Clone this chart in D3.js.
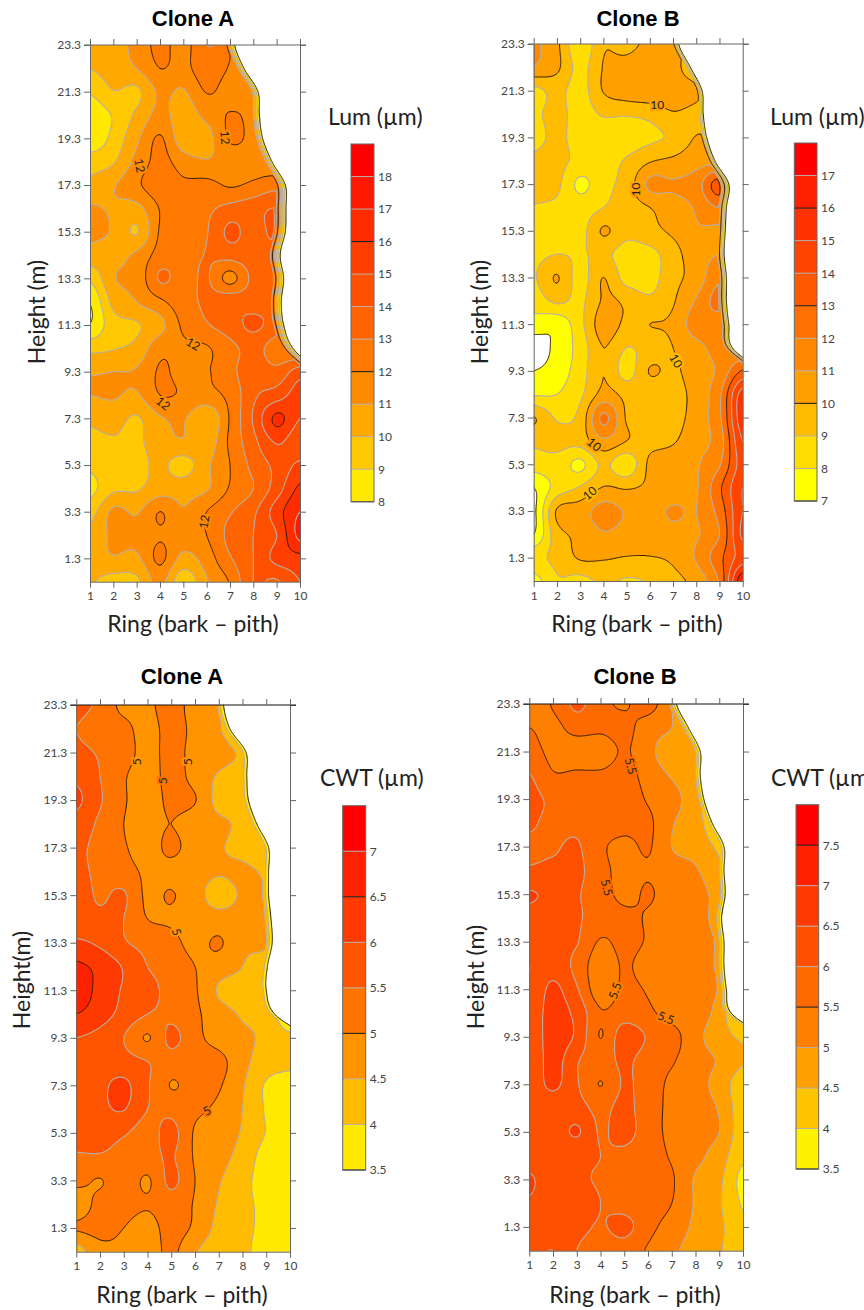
<!DOCTYPE html>
<html lang="en">
<head>
  <meta charset="UTF-8">
  <title>Lum and CWT contour maps</title>
  <script src="https://cdn.jsdelivr.net/npm/d3@7"></script>
  <style>
    html, body { margin: 0; padding: 0; background: #fff; }
    svg { display: block; }
    text { font-family: Lato, "Open Sans", sans-serif; }
    .title { font-family: "Liberation Sans", Arial, sans-serif; font-weight: bold; font-size: 22px; text-anchor: middle; fill: #000; }
    .axis-title { font-size: 23px; text-anchor: middle; fill: #222; }
    .bar-title { font-size: 23px; fill: #222; }
    .tick text { font-family: Lato, "Open Sans", sans-serif; font-size: 12px; fill: #444; }
    .line-label { font-size: 12px; fill: #222; text-anchor: middle; dominant-baseline: central; paint-order: stroke; stroke-width: 4px; }
  </style>
</head>
<body>
  <script>
    // rows go 23.3 m -> 0.3 m, columns are rings 1..10
    const rings = d3.range(1, 11);
    const heights = d3.range(0, 24).map(i => +(23.3 - i).toFixed(1));
    const heightTicks = [23.3, 21.3, 19.3, 17.3, 15.3, 13.3, 11.3, 9.3, 7.3, 5.3, 3.3, 1.3];

    const lumA = [
      [10.0, 10.6, 11.3, 12.3, 11.6, 13.0, 12.1, 8, 8, 8],
      [10.0, 10.5, 11.0, 12.0, 11.7, 12.6, 11.9, 11.0, 8, 8],
      [9.1, 9.95, 9.8, 11.2, 10.9, 12.05, 11.6, 11.4, 9, 9],
      [8.3, 9.1, 10.2, 11.3, 10.5, 11.3, 12.05, 11.5, 9, 9],
      [8.3, 9.3, 10.8, 12.1, 10.4, 10.6, 12.1, 11.5, 9, 9],
      [9.5, 9.9, 11.3, 12.3, 11.5, 11.1, 11.5, 11.5, 11, 11],
      [10.3, 10.9, 11.8, 12.6, 12.2, 12.3, 11.9, 12.2, 12.6, 12],
      [11.1, 10.9, 10.7, 12.05, 12.5, 12.8, 13.3, 13.6, 14.0, 13],
      [11.2, 10.9, 9.95, 12.1, 12.6, 12.95, 14.2, 13.6, 14.2, 13],
      [10.6, 10.7, 11.2, 12.4, 12.7, 13.05, 13.4, 13.6, 13.6, 13],
      [9.2, 10.9, 11.3, 13.1, 12.6, 13.1, 11.7, 13.3, 13.9, 13],
      [8.05, 10.3, 11.0, 11.8, 12.6, 13.2, 13.7, 13.6, 13.7, 13],
      [8.05, 9.6, 9.9, 10.7, 12.2, 12.9, 13.5, 14.2, 13.5, 13],
      [9.7, 9.95, 10.3, 11.7, 11.8, 11.9, 12.7, 13.3, 12.5, 12],
      [10.9, 11.0, 11.1, 12.1, 11.7, 11.9, 12.7, 13.6, 13.3, 14.5],
      [11.0, 11.1, 10.9, 12.0, 11.9, 11.7, 12.3, 13.8, 14.5, 15.5],
      [10.2, 10.4, 9.9, 10.9, 11.1, 10.1, 12.1, 14.1, 16.2, 15.0],
      [9.7, 9.9, 9.8, 10.6, 10.9, 10.4, 12.2, 13.7, 15.1, 14.3],
      [9.2, 9.8, 9.7, 10.2, 9.6, 10.8, 12.0, 13.3, 14.3, 15.2],
      [8.7, 9.8, 9.9, 10.5, 10.6, 10.9, 12.1, 13.0, 14.5, 16.2],
      [9.6, 11.2, 10.9, 12.0, 11.1, 12.0, 12.9, 13.8, 15.5, 17.0],
      [10.3, 11.2, 11.3, 11.9, 11.5, 12.0, 13.3, 14.0, 15.0, 17.3],
      [10.6, 10.9, 10.8, 12.2, 10.7, 11.5, 12.9, 14.0, 15.3, 15.7],
      [10.1, 9.6, 9.8, 11.3, 9.3, 10.9, 12.1, 14.0, 13.9, 15.0]
    ];
    const lumB = [
      [11.2, 10.2, 8.2, 9.9, 9.6, 10.4, 10.7, 9, 9, 9],
      [10.9, 10.2, 8.7, 10.05, 10.5, 10.9, 10.5, 9, 9, 9],
      [8.7, 9.3, 8.6, 10.05, 10.6, 10.8, 10.7, 10.3, 9, 9],
      [8.8, 9.3, 8.6, 9.1, 9.1, 9.3, 9.9, 9.6, 9, 9],
      [8.7, 9.2, 8.6, 8.5, 8.5, 8.8, 9.2, 10.05, 10, 10],
      [9.2, 9.3, 8.7, 8.7, 9.1, 9.9, 10.2, 10.6, 10.6, 10],
      [9.3, 9.2, 7.8, 8.7, 9.4, 11.2, 11.1, 11.5, 13.4, 11],
      [8.95, 8.8, 8.5, 9.0, 9.5, 10.0, 10.6, 11.1, 12.0, 11],
      [8.6, 8.5, 8.6, 10.1, 9.3, 9.7, 10.2, 10.9, 10.8, 11],
      [8.7, 9.0, 8.9, 9.2, 8.6, 8.7, 9.6, 10.6, 11.0, 11],
      [8.9, 10.05, 8.6, 10.0, 8.6, 8.6, 9.7, 10.4, 11.8, 11],
      [8.4, 9.2, 8.8, 10.1, 9.8, 9.2, 9.9, 11.1, 12.3, 11],
      [7.6, 7.3, 8.7, 10.5, 9.8, 10.0, 10.2, 11.5, 11.5, 11],
      [6.4, 7.3, 8.4, 10.0, 9.0, 9.4, 10.0, 10.7, 11.3, 11],
      [7.0, 7.5, 8.5, 9.98, 8.6, 10.05, 9.8, 10.6, 11.2, 13.1],
      [7.9, 8.0, 8.8, 10.3, 9.7, 9.4, 9.6, 10.4, 11.8, 15.5],
      [10.05, 8.9, 9.3, 12.2, 9.9, 9.5, 9.6, 10.5, 11.8, 15.7],
      [9.2, 9.3, 9.4, 10.8, 10.0, 9.7, 9.9, 10.7, 11.5, 15.0],
      [8.5, 8.6, 7.8, 9.2, 8.3, 10.2, 10.6, 10.9, 11.9, 14.5],
      [7.0, 8.4, 9.1, 10.05, 9.9, 10.2, 10.5, 10.9, 12.8, 15.0],
      [6.8, 10.1, 10.5, 11.4, 10.9, 10.7, 11.1, 11.0, 12.4, 15.0],
      [7.0, 9.6, 10.2, 10.9, 10.6, 10.6, 10.7, 10.9, 12.0, 15.2],
      [8.7, 9.3, 10.1, 10.1, 9.95, 9.95, 10.2, 11.1, 12.7, 14.5],
      [7.6, 8.9, 8.7, 9.2, 8.9, 9.1, 9.7, 10.4, 12.2, 16.8]
    ];
    const cwtA = [
      [5.6, 5.4, 4.85, 4.85, 5.3, 4.7, 4.6, 3.9, 3.9, 3.9],
      [5.5, 5.3, 5.15, 4.8, 5.2, 4.85, 4.55, 4.0, 4, 4],
      [5.6, 5.45, 5.2, 4.85, 5.15, 4.85, 4.7, 4.4, 4, 4],
      [5.9, 5.5, 5.05, 4.8, 5.15, 4.85, 4.45, 4.3, 4, 4],
      [6.1, 5.55, 5.05, 4.8, 5.1, 5.02, 4.35, 4.35, 4, 4],
      [5.8, 5.4, 5.0, 4.85, 5.0, 4.75, 4.6, 4.4, 4.2, 4],
      [5.6, 5.35, 5.05, 4.8, 5.1, 4.75, 4.55, 4.35, 4.1, 4],
      [5.6, 5.4, 5.2, 4.9, 4.85, 4.7, 4.55, 4.6, 4.4, 4],
      [5.7, 5.45, 5.55, 4.9, 5.03, 4.7, 4.3, 4.55, 4.52, 4],
      [5.55, 5.6, 5.5, 5.0, 4.93, 4.75, 4.7, 4.65, 4.6, 4],
      [6.1, 5.9, 5.55, 5.35, 5.15, 4.85, 5.05, 4.6, 4.6, 4],
      [6.6, 6.35, 5.95, 5.5, 5.3, 5.0, 4.75, 4.5, 4.2, 4],
      [6.9, 6.3, 5.95, 5.65, 5.35, 5.05, 4.45, 4.3, 4.3, 4],
      [6.5, 6.2, 5.85, 5.5, 5.4, 5.1, 4.7, 4.45, 4.3, 3.6],
      [6.0, 5.85, 5.5, 4.97, 5.6, 5.15, 4.8, 4.6, 4.4, 4.1],
      [5.9, 5.8, 5.7, 5.5, 5.3, 5.25, 5.15, 4.65, 4.25, 4.1],
      [5.8, 5.9, 6.1, 5.55, 4.98, 5.2, 5.05, 4.55, 3.95, 3.8],
      [5.85, 5.9, 6.02, 5.5, 5.35, 5.1, 4.9, 4.5, 3.95, 3.7],
      [5.7, 5.7, 5.55, 5.3, 5.65, 4.95, 4.8, 4.45, 3.98, 3.7],
      [5.45, 5.45, 5.35, 5.3, 5.55, 4.95, 4.7, 4.3, 3.8, 3.6],
      [5.15, 4.98, 5.3, 4.95, 5.6, 5.0, 4.55, 4.15, 3.8, 3.6],
      [4.7, 5.15, 5.2, 5.05, 5.3, 4.95, 4.45, 4.1, 3.9, 3.6],
      [5.05, 5.15, 5.0, 4.8, 5.2, 4.9, 4.35, 4.1, 3.9, 3.7],
      [4.3, 4.85, 4.9, 4.75, 5.1, 4.55, 4.2, 4.1, 3.8, 3.7]
    ];
    const cwtB = [
      [5.2, 5.55, 6.1, 5.65, 5.45, 5.7, 5.0, 4.0, 4, 4],
      [5.5, 5.35, 5.7, 5.6, 5.65, 5.25, 5.0, 4.5, 4, 4],
      [5.7, 5.35, 5.2, 5.2, 5.55, 5.15, 4.7, 4.55, 4, 4],
      [6.02, 5.55, 5.6, 5.6, 5.7, 5.3, 4.95, 4.6, 4, 4],
      [6.15, 5.9, 5.9, 5.85, 5.8, 5.45, 5.2, 4.65, 4, 4],
      [6.05, 5.9, 5.9, 5.8, 5.7, 5.6, 5.05, 4.7, 4.1, 4],
      [5.95, 5.95, 6.05, 5.6, 5.35, 5.55, 5.0, 4.8, 4.4, 4],
      [6.05, 6.1, 6.1, 5.7, 5.3, 5.45, 5.2, 5.05, 4.6, 4],
      [6.55, 6.35, 6.05, 5.75, 5.35, 5.55, 5.25, 5.15, 4.8, 4],
      [6.3, 6.15, 6.05, 5.8, 5.65, 5.45, 5.25, 5.15, 4.8, 4],
      [6.15, 6.15, 6.03, 5.45, 5.65, 5.45, 5.2, 5.15, 4.9, 4],
      [6.0, 6.3, 5.85, 5.2, 5.55, 5.3, 5.2, 5.15, 4.9, 4],
      [6.05, 6.6, 6.05, 5.2, 5.6, 5.45, 5.2, 5.2, 4.95, 4],
      [6.15, 6.7, 6.35, 5.55, 5.75, 5.6, 5.3, 5.2, 4.8, 3.7],
      [6.1, 6.75, 6.4, 5.49, 6.3, 5.95, 5.7, 5.15, 4.75, 4.4],
      [6.05, 6.7, 6.05, 5.75, 6.1, 5.75, 5.55, 5.2, 4.95, 4.55],
      [6.15, 6.6, 6.05, 5.49, 6.05, 5.75, 5.4, 5.2, 4.8, 4.2],
      [6.15, 6.2, 6.2, 5.85, 6.15, 5.7, 5.4, 5.2, 4.95, 4.2],
      [6.2, 6.2, 6.55, 5.95, 6.2, 5.7, 5.4, 5.2, 5.0, 4.2],
      [6.1, 6.1, 6.1, 6.0, 5.85, 5.7, 5.45, 5.15, 4.75, 4.1],
      [6.6, 6.05, 6.05, 5.95, 5.75, 5.7, 5.55, 4.95, 4.6, 3.85],
      [6.4, 6.2, 6.2, 6.0, 5.8, 5.7, 5.5, 4.95, 4.55, 3.95],
      [6.1, 6.15, 6.15, 5.95, 6.15, 5.65, 5.3, 4.9, 4.6, 4.1],
      [6.3, 6.5, 6.0, 5.7, 5.75, 5.45, 5.1, 4.8, 4.55, 4.1]
    ];

    // last ring with wood at every height, same rows as above
    const edgeLumA = [7.2, 7.6, 8.2, 8.26, 8.4, 8.8, 9.37, 9.4, 9.37, 9.15, 9.3, 9.2, 9.3, 9.7, 10.8, 12, 14, 14, 14, 14, 14, 14, 14, 14];
    const edgeLumB = [7.24, 7.75, 8.25, 8.3, 8.45, 8.8, 9.4, 9.3, 9.25, 9.2, 9.3, 9.3, 9.4, 9.55, 10.8, 12, 14, 14, 14, 14, 14, 14, 14, 14];
    const edgeCwtA = [7.2, 7.47, 8.15, 8.18, 8.25, 8.6, 9.1, 9.1, 9.1, 9.2, 9.25, 9.05, 9.0, 9.35, 10.8, 12, 14, 14, 14, 14, 14, 14, 14, 14];
    const edgeCwtB = [7.2, 7.7, 8.2, 8.2, 8.35, 8.7, 9.2, 9.2, 9.25, 9.1, 9.2, 9.2, 9.3, 9.5, 10.9, 12, 14, 14, 14, 14, 14, 14, 14, 14];

    const levelsLumA = d3.range(8, 20);
    const levelsLumB = d3.range(7, 19);
    const levelsCwtA = d3.range(3.5, 8, 0.5);
    const levelsCwtB = d3.range(3.5, 8.5, 0.5);

    const darkLumA = [8, 12, 16];
    const darkLumB = [7, 10, 13, 16];
    const darkCwtA = [3.5, 5, 6.5];
    const darkCwtB = [3.5, 5.5, 7.5];

    const bandsLumA = ['#ffe900', '#ffc800', '#ffa900', '#ff8c00', '#ff7800', '#ff6400', '#ff5000', '#ff3e00', '#ff2c00', '#ff1800', '#ff0000'];
    const bandsLumB = ['#ffff00', '#ffdd00', '#ffbb00', '#ff9f00', '#ff8800', '#ff7000', '#ff5800', '#ff4400', '#ff3200', '#ff2000', '#ff0000'];
    const bandsCwtA = ['#ffe900', '#ffbb00', '#ff9400', '#ff7400', '#ff5400', '#ff3a00', '#ff2000', '#ff0000'];
    const bandsCwtB = ['#fff200', '#ffc400', '#ffa000', '#ff8000', '#ff6a00', '#ff5000', '#ff3a00', '#ff2000', '#ff0000'];

    // [ring, height, angle, text]
    const labelsLumA = [[3.14, 18.13, 80, '12'], [6.8, 19.33, 85, '12'], [5.43, 10.49, 30, '12'], [4.14, 7.95, 40, '12'], [5.89, 2.87, -80, '12']];
    const labelsLumB = [[6.32, 20.71, 0, '10'], [5.38, 17.07, -90, '10'], [7.13, 9.73, 60, '10'], [3.61, 6.16, 40, '10'], [3.41, 4.07, -40, '10']];
    const labelsCwtA = [[3.54, 20.91, -90, '5'], [5.68, 20.91, -90, '5'], [4.62, 20.11, -90, '5'], [5.23, 13.75, 75, '5'], [6.49, 6.24, -30, '5']];
    const labelsCwtB = [[5.28, 20.69, 75, '5.5'], [4.27, 15.58, 75, '5.5'], [4.6, 11.24, -70, '5.5'], [6.76, 10.1, 20, '5.5']];

    const panels = [
      { title: 'Clone A', barTitle: 'Lum (µm)', yTitle: 'Height (m)', grid: lumA, edge: edgeLumA, levels: levelsLumA, dark: darkLumA, bands: bandsLumA, labels: labelsLumA, slope: 12, topColor: '#666',
        x: [90, 300], y: [45, 581.7], titleAt: [193, 26], xTitleAt: [193, 632], yTitleAt: [37, 312], bar: [351, 374, 144, 501.7], barTitleAt: [328, 125] },
      { title: 'Clone B', barTitle: 'Lum (µm)', yTitle: 'Height (m)', grid: lumB, edge: edgeLumB, levels: levelsLumB, dark: darkLumB, bands: bandsLumB, labels: labelsLumB, slope: 15, topColor: '#666',
        x: [533.7, 742.7], y: [44, 581], titleAt: [638, 26], xTitleAt: [637, 632], yTitleAt: [480, 312], bar: [794.3, 817, 143, 501], barTitleAt: [770, 125] },
      { title: 'Clone A', barTitle: 'CWT (µm)', yTitle: 'Height(m)', grid: cwtA, edge: edgeCwtA, levels: levelsCwtA, dark: darkCwtA, bands: bandsCwtA, labels: labelsCwtA, slope: 4, topColor: '#111',
        x: [76.3, 290], y: [705, 1251.7], titleAt: [182, 684], xTitleAt: [182, 1303], yTitleAt: [22, 980], bar: [342.7, 365.7, 805.7, 1170], barTitleAt: [320, 786] },
      { title: 'Clone B', barTitle: 'CWT (µm)', yTitle: 'Height (m)', grid: cwtB, edge: edgeCwtB, levels: levelsCwtB, dark: darkCwtB, bands: bandsCwtB, labels: labelsCwtB, slope: 5, topColor: '#111',
        x: [529.3, 743], y: [704, 1250.7], titleAt: [635, 684], xTitleAt: [635, 1303], yTitleAt: [476, 977], bar: [796, 818.7, 804.7, 1169], barTitleAt: [771, 786] }
    ];

    const svg = d3.select('body').append('svg').attr('width', 864).attr('height', 1310);
    const fine = 24; // contour cells per ring / per metre

    function catmull(a, b, c, d, t) {
      return 0.5 * (2 * b + (c - a) * t + (2 * a - 5 * b + 4 * c - d) * t * t + (3 * b - a - 3 * c + d) * t * t * t);
    }
    function sample1d(arr, p) {
      const n = arr.length;
      const i = Math.min(Math.floor(p), n - 2);
      const t = p - i;
      return catmull(arr[Math.max(i - 1, 0)], arr[i], arr[i + 1], arr[Math.min(i + 2, n - 1)], t);
    }

    // resample the read-off grid so the contours come out round
    function resample(p) {
      const nx = (rings.length - 1) * fine + 1, ny = (heights.length - 1) * fine + 1;
      const values = new Float64Array(nx * ny);
      const low = p.levels[0];
      const cols = rings.map((_, c) => p.grid.map(row => row[c]));
      for (let j = 0; j < ny; j++) {
        const py = j / fine;
        const rowVals = cols.map(col => sample1d(col, py));
        const edge = sample1d(p.edge, py);
        for (let i = 0; i < nx; i++) {
          const v = sample1d(rowVals, i / fine);
          const ring = 1 + i / fine;
          values[j * nx + i] = Math.min(v, low + (edge - ring) * p.slope);
        }
      }
      return { values, nx, ny };
    }

    function drawAxes(g, p, x, y) {
      const ringAxisB = d3.axisBottom(x).tickValues(rings).tickSize(6).tickSizeOuter(0).tickFormat(d3.format('d')).tickPadding(4);
      const ringAxisT = d3.axisTop(x).tickValues(rings).tickSize(6).tickSizeOuter(0).tickFormat('');
      const hAxisL = d3.axisLeft(y).tickValues(heightTicks).tickSize(6).tickSizeOuter(0).tickFormat(d3.format('.1f')).tickPadding(3);
      const hAxisR = d3.axisRight(y).tickValues(heightTicks).tickSize(6).tickSizeOuter(0).tickFormat('');
      const add = (axis, tx, ty, color) => {
        const a = g.append('g').attr('transform', `translate(${tx},${ty})`).call(axis);
        a.selectAll('path,line').attr('stroke', color);
        return a;
      };
      add(ringAxisB, 0, p.y[1], '#666');
      add(hAxisL, p.x[0], 0, '#666');
      add(hAxisR, p.x[1], 0, '#666');
      const top = add(ringAxisT, 0, p.y[0], '#666');
      // top line runs a bit past the frame on both sides
      g.append('line').attr('x1', p.x[0] - 6).attr('x2', p.x[1] + 6).attr('y1', p.y[0]).attr('y2', p.y[0]).attr('stroke', p.topColor);
      top.raise();
      top.select('path').remove();
    }

    function drawBar(g, p) {
      const [x0, x1, y0, y1] = p.bar;
      const lv = p.levels;
      const scale = d3.scaleLinear().domain([lv[0], lv[lv.length - 1]]).range([y1, y0]);
      g.selectAll('rect.band').data(p.bands).enter().append('rect')
        .attr('class', 'band')
        .attr('x', x0).attr('width', x1 - x0)
        .attr('y', (d, i) => scale(lv[i + 1]))
        .attr('height', (d, i) => scale(lv[i]) - scale(lv[i + 1]))
        .attr('fill', d => d);
      g.selectAll('line.level').data(lv.slice(0, -1)).enter().append('line')
        .attr('class', 'level')
        .attr('x1', x0).attr('x2', x1)
        .attr('y1', d => scale(d)).attr('y2', d => scale(d))
        .attr('stroke', d => p.dark.includes(d) ? '#222' : '#b9aea6')
        .attr('stroke-width', d => p.dark.includes(d) ? 1.1 : 1);
      g.append('rect').attr('x', x0).attr('y', y0).attr('width', x1 - x0).attr('height', y1 - y0)
        .attr('fill', 'none').attr('stroke', '#666');
      const axis = d3.axisRight(scale).tickValues(lv.slice(0, -1)).tickSize(0).tickPadding(4).tickFormat(d => d);
      g.append('g').attr('transform', `translate(${x1},0)`).call(axis).select('path').remove();
    }

    panels.forEach((p, k) => {
      const g = svg.append('g');
      const x = d3.scaleLinear().domain([1, 10]).range(p.x);
      const y = d3.scaleLinear().domain([23.3, 0.3]).range(p.y);
      const { values, nx, ny } = resample(p);

      const toPx = pt => [x(1 + (pt[0] - 0.5) / fine), y(23.3 - (pt[1] - 0.5) / fine)];
      const project = d3.geoTransform({ point(a, b) { const q = toPx([a, b]); this.stream.point(q[0], q[1]); } });
      const path = d3.geoPath(project);

      const clipId = 'plot' + k;
      svg.append('clipPath').attr('id', clipId).append('rect')
        .attr('x', p.x[0]).attr('y', p.y[0]).attr('width', p.x[1] - p.x[0]).attr('height', p.y[1] - p.y[0]);

      const contours = d3.contours().size([nx, ny]).smooth(true).thresholds(p.levels.slice(0, -1))(values);
      const plot = g.append('g').attr('clip-path', `url(#${clipId})`);

      plot.selectAll('path.fill').data(contours).enter().append('path')
        .attr('class', 'fill')
        .attr('d', path)
        .attr('fill', (d, i) => p.bands[i])
        .attr('stroke', 'none');

      // contour line without the stretches that run along the grid border
      function linePath(geo) {
        let out = '';
        const onBorder = (a, b) => (a[0] <= 0 && b[0] <= 0) || (a[0] >= nx && b[0] >= nx) || (a[1] <= 0 && b[1] <= 0) || (a[1] >= ny && b[1] >= ny);
        geo.coordinates.forEach(poly => poly.forEach(ring => {
          let pen = false;
          for (let i = 1; i < ring.length; i++) {
            if (onBorder(ring[i - 1], ring[i])) { pen = false; continue; }
            const a = toPx(ring[i - 1]), b = toPx(ring[i]);
            if (!pen) out += `M${a[0].toFixed(1)},${a[1].toFixed(1)}`;
            out += `L${b[0].toFixed(1)},${b[1].toFixed(1)}`;
            pen = true;
          }
        }));
        return out;
      }
      const isDark = d => p.dark.includes(d.value);
      plot.selectAll('path.line').data(contours.slice().sort((a, b) => isDark(a) - isDark(b))).enter().append('path')
        .attr('class', 'line')
        .attr('d', linePath)
        .attr('fill', 'none')
        .attr('stroke', d => isDark(d) ? '#2a1a08' : '#b9aea6')
        .attr('stroke-width', d => isDark(d) ? 1 : 1.1);

      plot.selectAll('text.line-label').data(p.labels).enter().append('text')
        .attr('class', 'line-label')
        .attr('transform', d => `translate(${x(d[0])},${y(d[1])}) rotate(${d[2]})`)
        .attr('stroke', d => {
          const i = Math.round((d[0] - 1) * fine), j = Math.round((23.3 - d[1]) * fine);
          const v = values[j * nx + i];
          const b = d3.bisectRight(p.levels, v) - 1;
          return p.bands[Math.max(0, Math.min(b, p.bands.length - 1))];
        })
        .text(d => d[3]);

      drawAxes(g, p, x, y);
      drawBar(g, p);

      g.append('text').attr('class', 'title').attr('x', p.titleAt[0]).attr('y', p.titleAt[1]).text(p.title);
      g.append('text').attr('class', 'axis-title').attr('x', p.xTitleAt[0]).attr('y', p.xTitleAt[1]).text('Ring (bark – pith)');
      g.append('text').attr('class', 'axis-title')
        .attr('transform', `translate(${p.yTitleAt[0] + 8},${p.yTitleAt[1]}) rotate(-90)`).text(p.yTitle);
      g.append('text').attr('class', 'bar-title').attr('x', p.barTitleAt[0]).attr('y', p.barTitleAt[1]).text(p.barTitle);
    });
  </script>
</body>
</html>
